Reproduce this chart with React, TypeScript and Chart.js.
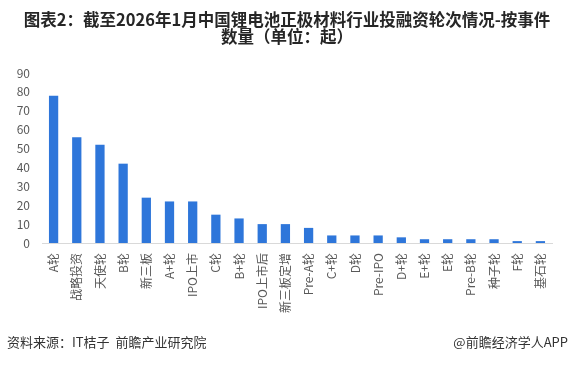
import React, { useEffect, useRef } from 'react';
import { Chart, registerables } from 'chart.js';

Chart.register(...registerables);

const categories: string[] = [
  'A轮', '战略投资', '天使轮', 'B轮', '新三板', 'A+轮', 'IPO上市', 'C轮', 'B+轮', 'IPO上市后', '新三板定增',
  'Pre-A轮', 'C+轮', 'D轮', 'Pre-IPO', 'D+轮', 'E+轮', 'E轮', 'Pre-B轮', '种子轮', 'F轮', '基石轮',
];
const eventCounts: number[] = [78, 56, 52, 42, 24, 22, 22, 15, 13, 10, 10, 8, 4, 4, 4, 3, 2, 2, 2, 2, 1, 1];
const yMin = 0;
const yMax = 90;
const yStep = 10;

const titleLine1 = '图表2：截至2026年1月中国锂电池正极材料行业投融资轮次情况-按事件';
const titleLine2 = '数量（单位：起）';
const sourceText = '资料来源：IT桔子  前瞻产业研究院';
const brandText = '@前瞻经济学人APP';

const FONT = '"Noto Sans CJK SC", "Noto Sans", sans-serif';

export default function App() {
  const ref = useRef<HTMLCanvasElement>(null);
  useEffect(() => {
    document.body.style.margin = '0';
    const chart = new Chart(ref.current!, {
      type: 'bar',
      data: {
        labels: categories,
        datasets: [
          {
            data: eventCounts,
            backgroundColor: '#2E76DA',
            barPercentage: 0.4,
            categoryPercentage: 1,
          },
        ],
      },
      options: {
        animation: false,
        responsive: false,
        maintainAspectRatio: false,
        layout: { padding: { top: 73, right: 22, left: 0, bottom: 0 } },
        plugins: { legend: { display: false }, tooltip: { enabled: false } },
        scales: {
          x: {
            grid: { display: false, drawTicks: false },
            border: { display: true, color: '#d9d9d9', width: 1 },
            ticks: {
              autoSkip: false,
              minRotation: 90,
              maxRotation: 90,
              padding: 10,
              color: '#595959',
              font: { size: 12, family: FONT },
            },
            afterFit: (s: any) => {
              s.height = 126;
            },
          },
          y: {
            min: yMin,
            max: yMax,
            ticks: { stepSize: yStep, padding: 12, color: '#595959', font: { size: 12, family: FONT } },
            grid: { display: false, drawTicks: false },
            border: { display: false },
            afterFit: (s: any) => {
              s.width = 42;
            },
          },
        },
      },
    });
    return () => chart.destroy();
  }, []);

  return (
    <div style={{ position: 'relative', width: 574, height: 369, background: '#fff', fontFamily: FONT, overflow: 'hidden' }}>
      <canvas ref={ref} width={574} height={369} style={{ position: 'absolute', left: 0, top: 0 }} />
      <div
        style={{
          position: 'absolute',
          left: 0,
          top: 11,
          width: 574,
          textAlign: 'center',
          fontSize: 16.5,
          fontWeight: 'bold',
          lineHeight: '17px',
          color: '#262626',
          whiteSpace: 'nowrap',
        }}
      >
        {titleLine1}
        <br />
        {titleLine2}
      </div>
      <div style={{ position: 'absolute', left: 7, top: 332, fontSize: 13, color: '#333', whiteSpace: 'pre' }}>{sourceText}</div>
      <div style={{ position: 'absolute', right: 6, top: 332, fontSize: 13, color: '#333', whiteSpace: 'pre' }}>{brandText}</div>
    </div>
  );
}
